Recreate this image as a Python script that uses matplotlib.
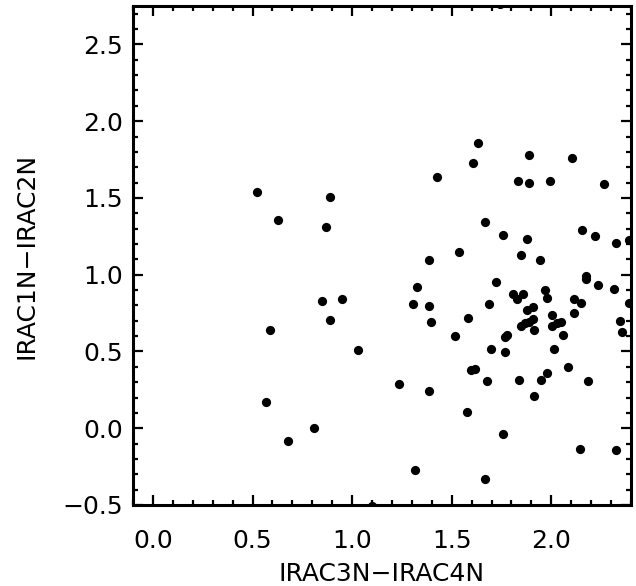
import matplotlib
matplotlib.use("Agg")
import matplotlib.pyplot as plt
from matplotlib.ticker import MultipleLocator, FixedLocator

irac34 = [
    0.52, 0.89, 0.63, 0.87, 0.85, 0.95, 0.89, 0.59, 1.03, 0.57, 0.81, 0.68,
    1.425, 1.633, 1.605, 1.888, 2.105, 1.834, 1.888, 1.995, 2.266, 1.666,
    1.756, 1.876, 2.156, 2.218, 2.326, 2.392,
    1.384, 1.535, 1.846, 1.945, 1.324, 1.724, 2.174, 2.174, 2.236, 2.316,
    2.392, 1.304, 1.384, 1.394, 1.583, 1.516, 1.686, 1.806, 1.826, 1.856,
    1.967, 1.977, 1.876, 1.906, 1.846, 1.866, 1.886, 1.906, 1.915, 2.005,
    2.005, 2.027, 2.047, 2.057, 2.116, 2.116, 2.147, 2.345, 2.357, 1.696,
    1.766, 1.776, 1.766, 1.595, 1.615, 1.675, 2.015, 2.085, 2.186, 1.235,
    1.384, 1.836, 1.915, 1.947, 1.977, 1.575, 1.756, 2.144, 2.326, 1.314,
    1.665, 1.10, 1.742,
]
irac12 = [
    1.538, 1.508, 1.358, 1.308, 0.828, 0.839, 0.706, 0.637, 0.509, 0.168, -0.001, -0.082,
    1.638, 1.860, 1.729, 1.777, 1.760, 1.610, 1.599, 1.610, 1.590, 1.341,
    1.258, 1.230, 1.291, 1.250, 1.208, 1.226,
    1.097, 1.147, 1.128, 1.097, 0.917, 0.950, 0.991, 0.972, 0.930, 0.909,
    0.817, 0.809, 0.798, 0.689, 0.717, 0.598, 0.809, 0.872, 0.839, 0.872,
    0.900, 0.848, 0.767, 0.789, 0.667, 0.687, 0.691, 0.709, 0.639, 0.739,
    0.667, 0.683, 0.689, 0.607, 0.748, 0.839, 0.817, 0.698, 0.630, 0.518,
    0.591, 0.609, 0.496, 0.379, 0.387, 0.307, 0.518, 0.396, 0.307, 0.287,
    0.245, 0.316, 0.207, 0.316, 0.358, 0.107, -0.035, -0.134, -0.143, -0.273,
    -0.331, -0.505, 2.76,
]

x_major = [0.0, 0.5, 1.0, 1.5, 2.0]
y_major = [-0.5, 0.0, 0.5, 1.0, 1.5, 2.0, 2.5]
x_labels = ["0.0", "0.5", "1.0", "1.5", "2.0"]
y_labels = ["\u22120.5", "0.0", "0.5", "1.0", "1.5", "2.0", "2.5"]

plt.rcParams['font.family'] = ['DejaVu Sans']

fig = plt.figure(figsize=(6.36, 5.86), dpi=100)
ax = fig.add_axes([133/636, 81/586, 498/636, 499/586])

ax.scatter(irac34, irac12, s=44, c='black', linewidths=0)

ax.set_xlim(-0.1, 2.4)
ax.set_ylim(-0.5, 2.75)

ax.xaxis.set_major_locator(FixedLocator(x_major))
ax.yaxis.set_major_locator(FixedLocator(y_major))
ax.set_xticklabels(x_labels)
ax.set_yticklabels(y_labels)
ax.xaxis.set_minor_locator(MultipleLocator(0.1))
ax.yaxis.set_minor_locator(MultipleLocator(0.1))

ax.tick_params(which='both', direction='in', top=True, right=True, width=1.6, color='black')
ax.tick_params(which='major', length=7.5)
ax.tick_params(which='minor', length=3.8)
ax.tick_params(axis='x', which='major', labelsize=18, pad=17)
ax.tick_params(axis='y', which='major', labelsize=18, pad=7)

for sp in ax.spines.values():
    sp.set_linewidth(2.2)
    sp.set_color('black')

ax.set_xlabel("IRAC3N\u2212IRAC4N", fontsize=18)
ax.set_ylabel("IRAC1N\u2212IRAC2N", fontsize=18)
ax.xaxis.set_label_coords(0.5, -0.138)
ax.yaxis.set_label_coords(-0.213, 0.5)
ax.xaxis.label.set_va('center')
ax.yaxis.label.set_va('center')

fig.savefig("out.png", dpi=100)
